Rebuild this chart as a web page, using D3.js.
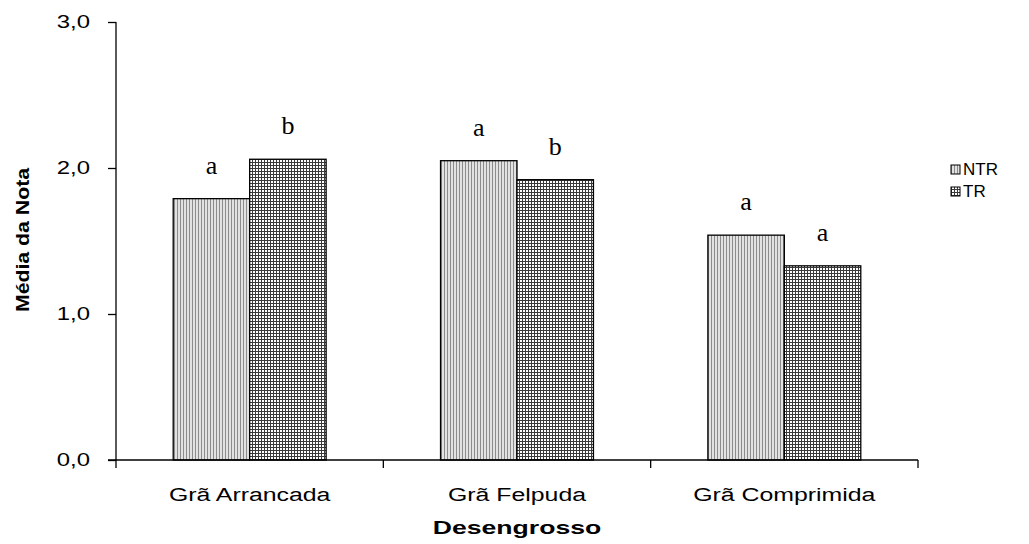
<!DOCTYPE html>
<html><head><meta charset="utf-8">
<script src="https://cdn.jsdelivr.net/npm/d3@7"></script>
<style>body{margin:0;background:#fff}svg{display:block}</style>
</head><body>
<svg id="c" width="1029" height="544"></svg>
<script>
const categories = ["Grã Arrancada", "Grã Felpuda", "Grã Comprimida"];
const series = ["NTR", "TR"];
const ntrValues = [1.79, 2.05, 1.54];
const trValues = [2.06, 1.92, 1.33];
const ntrLetters = ["a", "a", "a"];
const trLetters = ["b", "b", "a"];
const yTicks = [0, 1, 2, 3];
const yTickLabels = ["0,0", "1,0", "2,0", "3,0"];

const svg = d3.select("#c");
const defs = svg.append("defs");
const p1 = defs.append("pattern").attr("id","pNTR").attr("patternUnits","userSpaceOnUse").attr("width",3).attr("height",3);
p1.append("rect").attr("width",3).attr("height",3).attr("fill","#e2e2e2");
p1.append("rect").attr("x",0).attr("width",1).attr("height",3).attr("fill","#8c8c8c");
const p2 = defs.append("pattern").attr("id","pTR").attr("patternUnits","userSpaceOnUse").attr("width",3).attr("height",3);
p2.append("rect").attr("width",3).attr("height",3).attr("fill","#ffffff");
p2.append("rect").attr("x",0).attr("width",1).attr("height",3).attr("fill","#3a3a3a");
p2.append("rect").attr("y",0).attr("width",3).attr("height",1).attr("fill","#3a3a3a");

const FONT = "Arial, 'Liberation Sans', sans-serif";
const x0 = 116, x1 = 918, yTop = 22, yBot = 460;
const x = d3.scaleBand().domain(categories).range([x0, x1]).paddingInner(0.428).paddingOuter(0.214);
const xs = d3.scaleBand().domain(series).range([0, x.bandwidth()]);
const y = d3.scaleLinear().domain([0, 3]).range([yBot, yTop]);

const data = categories.map((c, i) => [
  {cat: c, s: "NTR", v: ntrValues[i], l: ntrLetters[i]},
  {cat: c, s: "TR", v: trValues[i], l: trLetters[i]}
]).flat();

svg.selectAll("rect.bar").data(data).enter().append("rect")
  .attr("class","bar")
  .attr("x", d => x(d.cat) + xs(d.s))
  .attr("y", d => y(d.v))
  .attr("width", xs.bandwidth())
  .attr("height", d => y(0) - y(d.v))
  .attr("fill", d => d.s === "NTR" ? "url(#pNTR)" : "url(#pTR)")
  .attr("stroke", "#000").attr("stroke-width", 1.3);

svg.selectAll("text.lbl").data(data).enter().append("text")
  .attr("x", d => x(d.cat) + xs(d.s) + xs.bandwidth()/2)
  .attr("y", d => y(d.v) - 25)
  .attr("text-anchor","middle")
  .attr("font-family","'Liberation Serif', 'Times New Roman', serif")
  .attr("font-size", 26)
  .text(d => d.l);

// Y axis
const yAxis = d3.axisLeft(y).tickValues(yTicks).tickFormat((d, i) => yTickLabels[i]).tickSize(8).tickPadding(18);
const gy = svg.append("g").attr("transform", `translate(${x0},0)`).call(yAxis);
gy.select(".domain").attr("d", `M0,${yTop}V${yBot}`).attr("stroke","#000").attr("stroke-width",1.3);
gy.selectAll(".tick line").attr("stroke","#000").attr("stroke-width",1.3);
gy.selectAll(".tick text").attr("font-family",FONT).attr("font-size",18).attr("fill","#000")
  .attr("x", 0).attr("transform","translate(-26,0) scale(1.33,1)");

// X axis
const gx = svg.append("g").attr("transform", `translate(0,${yBot})`);
gx.append("line").attr("x1", x0 - 8).attr("x2", x1).attr("y1",0).attr("y2",0).attr("stroke","#000").attr("stroke-width",1.3);
const bounds = [x0].concat(categories.map(c => x(c) + x.bandwidth() + x.step()*x.paddingInner()/2));
bounds[bounds.length-1] = x1;
gx.selectAll("line.t").data(bounds).enter().append("line")
  .attr("x1", d => d).attr("x2", d => d).attr("y1", 0).attr("y2", 8)
  .attr("stroke","#000").attr("stroke-width",1.3);
gx.selectAll("text.c").data(categories).enter().append("text")
  .attr("transform", d => `translate(${x(d) + x.bandwidth()/2},41) scale(1.38,1)`)
  .attr("text-anchor","middle")
  .attr("font-family",FONT).attr("font-size",18)
  .text(d => d);

svg.append("text").attr("transform","translate(517,534) scale(1.4,1)").attr("text-anchor","middle")
  .attr("font-family",FONT).attr("font-size",19).attr("font-weight","bold")
  .text("Desengrosso");
svg.append("text").attr("transform","translate(29,240) rotate(-90) scale(1.12,1)").attr("text-anchor","middle")
  .attr("font-family",FONT).attr("font-size",19).attr("font-weight","bold")
  .text("Média da Nota");

// Legend
const lg = svg.append("g").attr("transform","translate(951,165)");
series.forEach((s, i) => {
  lg.append("rect").attr("x",0).attr("y", i*22).attr("width",9).attr("height",9)
    .attr("fill", s === "NTR" ? "url(#pNTR)" : "url(#pTR)").attr("stroke","#000").attr("stroke-width",1);
  lg.append("text").attr("x",12).attr("y", i*22 + 10)
    .attr("font-family",FONT).attr("font-size",17).text(s);
});
</script>
</body></html>
